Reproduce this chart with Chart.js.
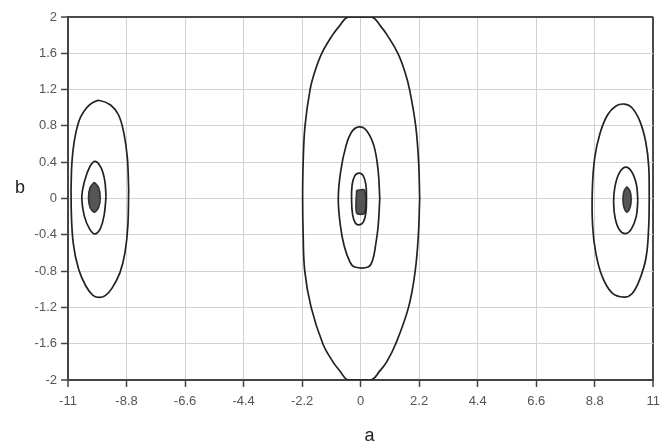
<!DOCTYPE html>
<html><head><meta charset="utf-8">
<script src="https://cdn.jsdelivr.net/npm/chart.js@4"></script>
<style>html,body{margin:0;padding:0;background:#fff;overflow:hidden}canvas{display:block}</style>
</head><body>
<canvas id="c" width="667" height="445"></canvas>
<script>
// Axis ticks and titles
const xTickValues = [-11, -8.8, -6.6, -4.4, -2.2, 0, 2.2, 4.4, 6.6, 8.8, 11];
const xTickLabels = ['-11', '-8.8', '-6.6', '-4.4', '-2.2', '0', '2.2', '4.4', '6.6', '8.8', '11'];
const yTickValues = [-2, -1.6, -1.2, -0.8, -0.4, 0, 0.4, 0.8, 1.2, 1.6, 2];
const yTickLabels = ['-2', '-1.6', '-1.2', '-0.8', '-0.4', '0', '0.4', '0.8', '1.2', '1.6', '2'];
const xTitle = 'a';
const yTitle = 'b';

// Contour lines, [a, b] pairs
const centerOuter = [[2.22,0],[2.18,0.4],[2.07,0.8],[1.84,1.2],[1.66,1.4],[1.40,1.6],[1.0,1.8],[0.75,1.9],[0.42,2],[-0.47,2],[-0.80,1.9],[-1.06,1.8],[-1.46,1.6],[-1.72,1.4],[-1.90,1.2],[-2.09,0.8],[-2.16,0.4],[-2.18,0],[-2.16,-0.4],[-2.10,-0.8],[-1.86,-1.2],[-1.42,-1.6],[-1.04,-1.8],[-0.78,-1.9],[-0.47,-2],[0.40,-2],[0.72,-1.9],[0.98,-1.8],[1.32,-1.6],[1.80,-1.2],[2.05,-0.8],[2.17,-0.4],[2.22,0]];
const centerMiddle = [[0.72,0],[0.66,0.3],[0.5,0.58],[0.22,0.75],[-0.05,0.79],[-0.32,0.74],[-0.55,0.58],[-0.75,0.3],[-0.84,0],[-0.76,-0.3],[-0.62,-0.52],[-0.4,-0.7],[-0.22,-0.755],[0.28,-0.755],[0.45,-0.68],[0.56,-0.52],[0.66,-0.3],[0.72,0]];
const centerInner = [[0.22,0],[0.2,0.15],[0.1,0.25],[-0.06,0.28],[-0.22,0.25],[-0.32,0.15],[-0.34,-0.02],[-0.3,-0.18],[-0.2,-0.27],[-0.06,-0.29],[0.1,-0.26],[0.2,-0.15],[0.22,0]];
const centerCore = [[-0.15,0.09],[0.15,0.09],[0.15,-0.16],[-0.15,-0.16],[-0.15,0.09]];
const leftOuter = [[-8.72,0.1],[-8.77,0.45],[-8.9,0.72],[-9.1,0.92],[-9.4,1.03],[-9.82,1.08],[-10.05,1.06],[-10.3,1.0],[-10.58,0.86],[-10.78,0.6],[-10.87,0.3],[-10.88,-0.1],[-10.8,-0.5],[-10.6,-0.78],[-10.32,-0.97],[-10.05,-1.07],[-9.82,-1.09],[-9.6,-1.07],[-9.35,-0.99],[-9.05,-0.82],[-8.86,-0.6],[-8.75,-0.3],[-8.72,0.1]];
const leftMiddle = [[-9.57,0.02],[-9.62,0.2],[-9.76,0.34],[-9.98,0.41],[-10.18,0.35],[-10.37,0.2],[-10.48,0.02],[-10.38,-0.2],[-10.18,-0.34],[-9.98,-0.39],[-9.78,-0.33],[-9.64,-0.18],[-9.57,0.02]];
const leftCore = [[-10.01,0.18],[-9.85,0.12],[-9.79,0.01],[-9.85,-0.1],[-10.01,-0.15],[-10.17,-0.1],[-10.23,0.01],[-10.17,0.12],[-10.01,0.18]];
const rightOuter = [[10.85,0.0],[10.83,0.35],[10.72,0.62],[10.5,0.85],[10.2,1.0],[9.92,1.04],[9.6,1.02],[9.28,0.92],[9.0,0.72],[8.8,0.45],[8.71,0.1],[8.72,-0.3],[8.84,-0.6],[9.08,-0.86],[9.45,-1.04],[9.9,-1.087],[10.2,-1.05],[10.48,-0.9],[10.73,-0.65],[10.83,-0.3],[10.85,0.0]];
const rightMiddle = [[10.42,-0.02],[10.37,0.15],[10.2,0.29],[9.96,0.345],[9.72,0.28],[9.56,0.13],[9.51,-0.04],[9.57,-0.22],[9.74,-0.35],[9.96,-0.386],[10.17,-0.34],[10.36,-0.2],[10.42,-0.02]];
const rightCore = [[10.01,0.13],[10.13,0.08],[10.17,-0.01],[10.13,-0.1],[10.01,-0.15],[9.9,-0.1],[9.86,-0.01],[9.9,0.08],[10.01,0.13]];

const lineContours = [centerOuter, centerMiddle, centerInner, leftOuter, leftMiddle, rightOuter, rightMiddle];
const coreContours = [centerCore, leftCore, rightCore];

const toPts = arr => arr.map(p => ({x: p[0], y: p[1]}));
const datasets = [];
lineContours.forEach(c => datasets.push({
  data: toPts(c), showLine: true, borderColor: '#222', borderWidth: 1.7,
  pointRadius: 0, tension: 0.4, fill: false
}));
coreContours.forEach(c => datasets.push({
  data: toPts(c), showLine: true, borderColor: '#333', borderWidth: 1.6,
  backgroundColor: '#555', pointRadius: 0, tension: 0.3, fill: 'shape'
}));

const edgeColor = (ctx, n) => (ctx.index === 0 || ctx.index === n - 1) ? '#4a4a4a' : '#d2d2d2';
const edgeWidth = (ctx, n) => (ctx.index === 0 || ctx.index === n - 1) ? 2 : 1;
const tickFont = {family: '"Liberation Sans", Arial, sans-serif', size: 13};

const titlePlugin = {
  id: 'axisTitles',
  afterDraw(chart) {
    const ctx = chart.ctx, ca = chart.chartArea;
    ctx.save();
    ctx.font = '18px "Liberation Sans", Arial, sans-serif';
    ctx.fillStyle = '#222';
    ctx.textAlign = 'center';
    ctx.textBaseline = 'middle';
    ctx.fillText(yTitle, 20, chart.scales.y.getPixelForValue(0) - 10);
    ctx.fillText(xTitle, (ca.left + ca.right) / 2 + 9, 436);
    ctx.restore();
  }
};

new Chart(document.getElementById('c'), {
  type: 'scatter',
  data: {datasets},
  plugins: [titlePlugin],
  options: {
    responsive: false,
    animation: false,
    devicePixelRatio: 1,
    layout: {padding: {left: 0, top: 17, right: 10, bottom: 0}},
    plugins: {legend: {display: false}, tooltip: {enabled: false}},
    scales: {
      x: {
        type: 'linear', min: -11, max: 11,
        afterBuildTicks: s => { s.ticks = xTickValues.map(v => ({value: v})); },
        afterFit: s => { s.height = 65; },
        ticks: {callback: (v, i) => xTickLabels[i], font: tickFont, color: '#555', padding: 7, maxRotation: 0, autoSkip: false},
        grid: {color: c => edgeColor(c, xTickValues.length), lineWidth: c => edgeWidth(c, xTickValues.length), tickLength: 7, tickColor: '#444', tickWidth: 1.5},
        border: {color: '#444', width: 2}
      },
      y: {
        type: 'linear', min: -2, max: 2,
        afterBuildTicks: s => { s.ticks = yTickValues.map(v => ({value: v})); },
        afterFit: s => { s.width = 68; },
        ticks: {callback: (v, i) => yTickLabels[i], font: tickFont, color: '#555', padding: 4, autoSkip: false},
        grid: {color: c => edgeColor(c, yTickValues.length), lineWidth: c => edgeWidth(c, yTickValues.length), tickLength: 7, tickColor: '#444', tickWidth: 1.5},
        border: {color: '#444', width: 2}
      }
    }
  }
});
</script>
</body></html>
